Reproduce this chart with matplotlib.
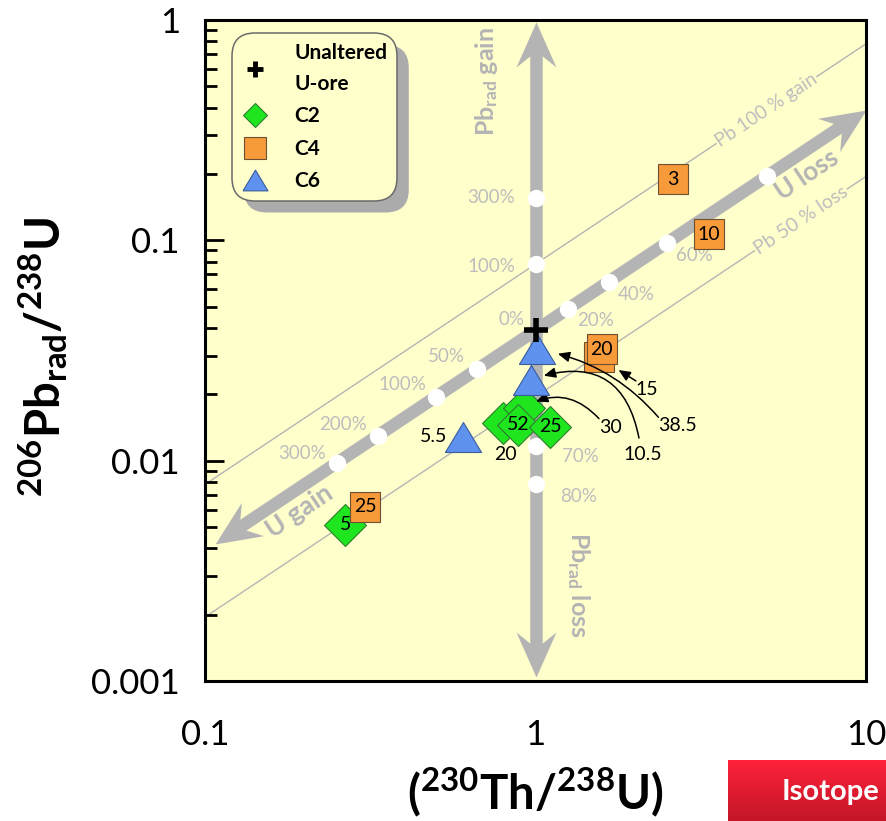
import numpy as np
import matplotlib.pyplot as plt
from matplotlib.markers import MarkerStyle
from matplotlib.path import Path
from matplotlib.patches import Shadow
from matplotlib.lines import Line2D
from matplotlib.transforms import Affine2D

plt.rcParams['font.family'] = ['Lato', 'DejaVu Sans']
plt.rcParams['mathtext.fontset'] = 'custom'
plt.rcParams['mathtext.rm'] = 'Lato:bold'
plt.rcParams['mathtext.it'] = 'Lato:bold'
plt.rcParams['mathtext.bf'] = 'Lato:bold'

# unaltered U ore (secular equilibrium)
ore_th = 1.0
ore_pb = 0.039

# steps of U loss / gain along the ore line
u_steps = ['20%', '40%', '60%', '80%', '50%', '100%', '200%', '300%']
u_factor = [1.25, 1 / 0.6, 2.5, 5.0, 1 / 1.5, 0.5, 1 / 3, 0.25]
# steps of Pb gain / loss at constant Th/U
pb_steps = ['300%', '100%', '70%', '80%']
pb_factor = [4.0, 2.0, 0.3, 0.2]

# samples
c2_x = [0.266, 0.80, 0.92, 0.888, 1.11]
c2_y = [0.00512, 0.01488, 0.0174, 0.01457, 0.01427]
c2_lab = ['5', '20', '30', '52', '25']
c4_x = [2.60, 3.34, 1.552, 1.585, 0.305]
c4_y = [0.189, 0.1065, 0.0294, 0.0320, 0.00618]
c4_lab = ['3', '10', '15', '20', '25']
c6_x = [1.014, 0.966, 0.605]
c6_y = [0.0320, 0.0233, 0.01285]
c6_lab = ['38.5', '10.5', '5.5']

x_ticks = [0.1, 1, 10]
x_ticklabels = ['0.1', '1', '10']
y_ticks = [0.001, 0.01, 0.1, 1]
y_ticklabels = ['0.001', '0.01', '0.1', '1']

bg = '#FFFFCC'
guide = '#B4B4B4'
guide_txt = '#BDBDBD'
green, orange, blue = '#1FE51F', '#F79A3A', '#5F92EE'

fig = plt.figure(figsize=(8.87, 8.21), dpi=100)
ax = fig.add_axes([205 / 887, 140 / 821, 661 / 887, 661 / 821])
ax.set_xscale('log')
ax.set_yscale('log')
ax.set_xlim(0.1, 10)
ax.set_ylim(0.001, 1)
ax.set_facecolor(bg)
for s in ax.spines.values():
    s.set_linewidth(2.2)
    s.set_color('k')

ax.set_xticks(x_ticks, x_ticklabels)
ax.set_yticks(y_ticks, y_ticklabels)
ax.tick_params(axis='x', which='both', length=0, pad=27, labelsize=25)
ax.tick_params(axis='y', which='major', direction='in', length=14, width=2, pad=18, labelsize=25)
ax.tick_params(axis='y', which='minor', direction='in', length=8.5, width=2)
ax.yaxis.set_minor_formatter(plt.NullFormatter())
ax.xaxis.set_minor_formatter(plt.NullFormatter())

# stealth arrowhead, tip at origin pointing along +x (units ~ pixels)
head = Path([(0, 0), (-45, 20), (-29, 0), (-45, -20), (0, 0)],
            [Path.MOVETO, Path.LINETO, Path.LINETO, Path.LINETO, Path.CLOSEPOLY])


def guide_arrow(p0, p1, heads):
    d0 = ax.transData.transform(p0)
    d1 = ax.transData.transform(p1)
    u = (d1 - d0) / np.hypot(*(d1 - d0))
    inv = ax.transData.inverted()
    a = inv.transform(d0 + u * 20 if 0 in heads else d0)
    b = inv.transform(d1 - u * 20 if 1 in heads else d1)
    ax.plot([a[0], b[0]], [a[1], b[1]], color=guide, lw=9, solid_capstyle='round', zorder=1)
    ang = np.degrees(np.arctan2(u[1], u[0]))
    for i in heads:
        tip = (p0, p1)[i]
        rot = ang if i == 1 else ang + 180
        ax.plot(*tip, ls='none', marker=MarkerStyle(head, transform=Affine2D().rotate_deg(rot)),
                ms=90 * 0.72, color=guide, mec='none', zorder=1, clip_on=False)
    return ang


# thin Pb 100 % gain / Pb 50 % loss lines
xs = np.array([0.1, 10])
ax.plot(xs, 2 * ore_pb * xs, color=guide, lw=1, zorder=0.5)
ax.plot(xs, 0.5 * ore_pb * xs, color=guide, lw=1, zorder=0.5)

# U gain / loss (ore line) and Pb gain / loss (vertical)
ang = guide_arrow((0.107, 0.107 * ore_pb), (10.0, 10.0 * ore_pb), heads=(0, 1))
guide_arrow((ore_th, 0.00104), (ore_th, 0.98), heads=(0, 1))

ax.text(5.0, 2 * ore_pb * 5.0, 'Pb 100 % gain', color=guide_txt, fontsize=13.5,
        rotation=ang, rotation_mode='anchor', ha='center', va='center',
        bbox=dict(fc=bg, ec='none', pad=0.5), zorder=0.8)
ax.text(6.35, 0.5 * ore_pb * 6.35, 'Pb 50 % loss', color=guide_txt, fontsize=14,
        rotation=ang, rotation_mode='anchor', ha='center', va='center',
        bbox=dict(fc=bg, ec='none', pad=0.5), zorder=0.8)

ax.annotate('U loss', (6.62, 6.62 * ore_pb), xytext=(0, -18), textcoords='offset points',
            color=guide, fontsize=19, fontweight='bold', rotation=ang,
            rotation_mode='anchor', ha='center', va='center')
ax.annotate('U gain', (0.193, 0.193 * ore_pb), xytext=(0, -17), textcoords='offset points',
            color=guide, fontsize=19, fontweight='bold', rotation=ang,
            rotation_mode='anchor', ha='center', va='center')
ax.annotate(r'Pb$_{\mathregular{rad}}$ gain', (ore_th, 0.527), xytext=(-35, 0),
            textcoords='offset points', color=guide, fontsize=18, fontweight='bold',
            rotation=90, ha='center', va='center')
ax.annotate(r'Pb$_{\mathregular{rad}}$ loss', (ore_th, 0.00273), xytext=(31, 0),
            textcoords='offset points', color=guide, fontsize=18, fontweight='bold',
            rotation=-90, ha='center', va='center')

# step markers
ux = ore_th * np.array(u_factor)
ax.plot(ux, ore_pb * ux, ls='none', marker='o', ms=12.5, mfc='white', mec='none', zorder=1.5)
py = ore_pb * np.array(pb_factor)
ax.plot([ore_th] * len(py), py, ls='none', marker='o', ms=12.5, mfc='white', mec='none', zorder=1.5)

u_off = [(20, -8), (20, -9), (20, -9), None, (-22, 9), (-24, 9), (-25, 8), (-25, 7)]
for lab, f, off in zip(u_steps, u_factor, u_off):
    if off is None:
        continue
    ax.annotate(lab, (ore_th * f, ore_pb * f), xytext=off, textcoords='offset points',
                color=guide_txt, fontsize=13.5, ha='center', va='center')
pb_off = [(-32, 0), (-32, -2), (32, -8), (31, -9)]
for lab, f, off in zip(pb_steps, pb_factor, pb_off):
    ax.annotate(lab, (ore_th, ore_pb * f), xytext=off, textcoords='offset points',
                color=guide_txt, fontsize=13.5, ha='center', va='center')
ax.annotate('0%', (ore_th, ore_pb), xytext=(-17, 8), textcoords='offset points',
            color=guide_txt, fontsize=13.5, ha='center', va='center')

# samples
ax.plot(c2_x, c2_y, ls='none', marker='D', ms=21, mfc=green, mec='#2E7D2E', mew=0.8, zorder=3)
ax.plot(c4_x, c4_y, ls='none', marker='s', ms=21, mfc=orange, mec='#6E5030', mew=0.8, zorder=3)
tri = Path([(-1, -0.83), (1, -0.83), (0, 0.83), (-1, -0.83)])
ax.plot(c6_x, c6_y, ls='none', marker=tri, ms=26, mfc=blue, mec='#3A5C9C', mew=0.8, zorder=3.2)
ax.plot(ore_th, ore_pb, ls='none', marker='+', ms=17, mew=4, color='k', zorder=4)

for xs_, ys_, labs, skip in ((c2_x, c2_y, c2_lab, {'20', '30'}),
                             (c4_x, c4_y, c4_lab, {'15'})):
    for x, y, lab in zip(xs_, ys_, labs):
        if lab in skip:
            continue
        ax.text(x, y, lab, fontsize=14, ha='center', va='center', zorder=3.5)

ax.annotate(c2_lab[1], (c2_x[1], c2_y[1]), xytext=(1.5, -23), textcoords='offset points',
            fontsize=14, ha='center', va='center')
ax.annotate(c6_lab[2], (c6_x[2], c6_y[2]), xytext=(-21.5, 0), textcoords='offset points',
            fontsize=14, ha='center', va='center')

arrow_kw = dict(arrowstyle='-|>,head_length=0.5,head_width=0.22', color='k', lw=1.1, patchA=None)
ax.annotate(c6_lab[0], (c6_x[0], c6_y[0]), xytext=(101, -55), textcoords='offset points',
            fontsize=14, ha='center', va='center',
            arrowprops=dict(**arrow_kw, connectionstyle='arc3,rad=0.18', relpos=(0, 1),
                            shrinkA=0, shrinkB=15))
ax.annotate(c6_lab[1], (c6_x[1], c6_y[1]), xytext=(80.5, -54), textcoords='offset points',
            fontsize=14, ha='center', va='center',
            arrowprops=dict(**arrow_kw, connectionstyle='arc3,rad=0.6', relpos=(0.45, 1),
                            shrinkA=6, shrinkB=10))
ax.annotate(c2_lab[2], (c2_x[2], c2_y[2]), xytext=(62.5, -14), textcoords='offset points',
            fontsize=14, ha='center', va='center',
            arrowprops=dict(**arrow_kw, connectionstyle='arc3,rad=0.4', relpos=(0, 1),
                            shrinkA=0, shrinkB=10))
ax.annotate(c4_lab[2], (c4_x[2], c4_y[2]), xytext=(35, -23), textcoords='offset points',
            fontsize=14, ha='center', va='center',
            arrowprops=dict(**arrow_kw, relpos=(0, 1), shrinkA=0, shrinkB=17))

# legend
handles = [
    Line2D([], [], ls='none', marker='+', ms=11, mew=3.5, color='k'),
    Line2D([], [], ls='none', marker='D', ms=12.5, mfc=green, mec='#2E7D2E', mew=0.8),
    Line2D([], [], ls='none', marker='s', ms=15.5, mfc=orange, mec='#6E5030', mew=0.8),
    Line2D([], [], ls='none', marker=tri, ms=18, mfc=blue, mec='#3A5C9C', mew=0.8),
]
labels = ['Unaltered\nU-ore', 'C2', 'C4', 'C6']
leg = ax.legend(handles, labels, loc='upper left', bbox_to_anchor=(0.041, 0.980),
                borderaxespad=0, prop=dict(weight='bold', size=15), frameon=True,
                fancybox=True, borderpad=0.45, handlelength=1.3, handletextpad=1.25,
                labelspacing=0.6)
fr = leg.get_frame()
fr.set_facecolor(bg)
fr.set_alpha(1)
fr.set_edgecolor('#6A6A6A')
fr.set_linewidth(1.1)
fr.set_boxstyle('round,pad=0,rounding_size=1.1')
for t in leg.get_texts():
    t.set_linespacing(1.7)
ax.add_artist(Shadow(fr, 8.5, -8.5, facecolor='#ABABAB', edgecolor='none', alpha=1, zorder=4.9))

fig.text(43 / 887, 1 - 357 / 821, r'$^{206}$Pb$_{\mathregular{rad}}$/$^{238}$U',
         rotation=90, ha='center', va='center', fontsize=34, fontweight='bold')
fig.text(535 / 887, 1 - 792 / 821, r'($^{230}$Th/$^{238}$U)',
         ha='center', va='center', fontsize=34, fontweight='bold')

# red tab in the corner
tab = fig.add_axes([728 / 887, 0, 159 / 887, 61 / 821])
grad = np.linspace(0, 1, 64)[:, None]
cols = np.array([255, 34, 58]) * (1 - grad[..., None]) + np.array([196, 22, 40]) * grad[..., None]
tab.imshow(cols.astype(np.uint8), aspect='auto', extent=(0, 1, 0, 1))
tab.set_axis_off()
tab.text(0.34, 0.48, 'Isotope', color='white', fontsize=21, fontweight='bold',
         ha='left', va='center', transform=tab.transAxes, clip_on=True)

fig.canvas.draw()
fig.savefig('out.png', dpi=100)
